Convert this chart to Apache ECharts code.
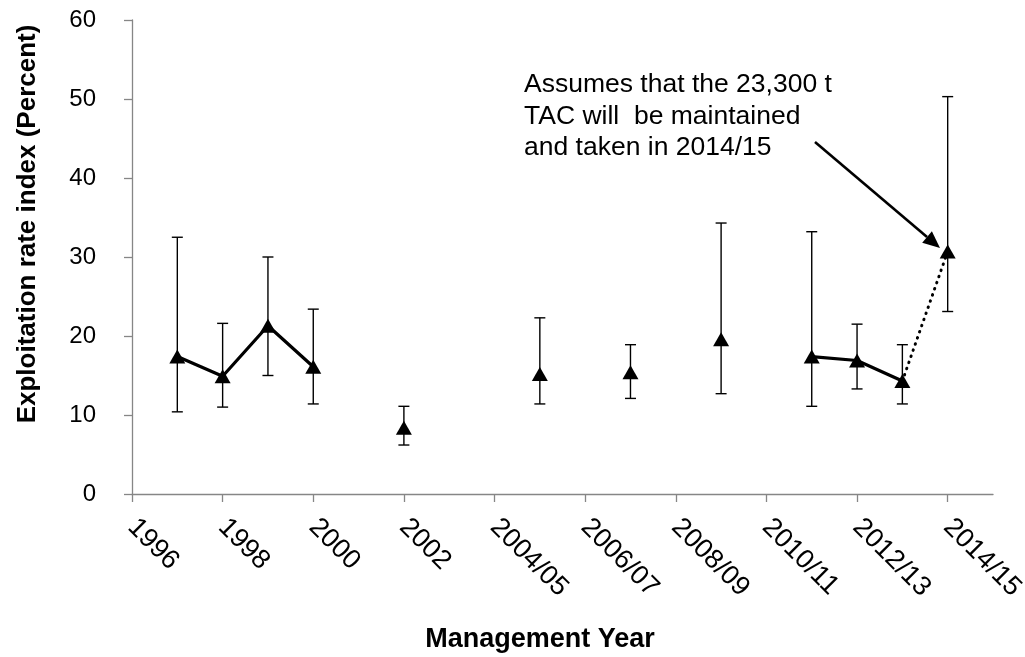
<!DOCTYPE html>
<html>
<head>
<meta charset="utf-8">
<script src="https://cdn.jsdelivr.net/npm/echarts@6/dist/echarts.min.js"></script>
<style>
html,body{margin:0;padding:0;background:#fff;}
#chart{width:1025px;height:657px;}
</style>
</head>
<body>
<div id="chart"></div>
<script>
// Category axis (one slot per management year; labels every second slot)
const categories = ['1996','1997','1998','1999','2000','2001','2002','2003',
  '2004/05','2005/06','2006/07','2007/08','2008/09','2009/10','2010/11',
  '2011/12','2012/13','2013/14','2014/15',''];

// Observed exploitation rate index points
const pointYears = ['1997','1998','1999','2000','2002','2005/06','2007/08','2009/10','2011/12','2012/13','2013/14','2014/15'];
const pointValues = [17.4, 14.9, 21.3, 16.1, 8.4, 15.2, 15.4, 19.6, 17.4, 16.9, 14.3, 30.7];
const lowerBounds = [10.4, 11.0, 15.0, 11.4, 6.2, 11.4, 12.1, 12.7, 11.1, 13.3, 11.4, 23.1];
const upperBounds = [32.5, 21.6, 30.0, 23.4, 11.1, 22.3, 18.9, 34.3, 33.2, 21.5, 18.9, 50.3];

// Connected runs
const solidRunA = ['1997','1998','1999','2000'];
const solidRunB = ['2011/12','2012/13','2013/14'];
const dottedRun = ['2013/14','2014/15'];

const yTicks = {min: 0, max: 60, interval: 10};

const annotationText = 'Assumes that the 23,300 t\nTAC will  be maintained\nand taken in 2014/15';
const xTitle = 'Management Year';
const yTitle = 'Exploitation rate index (Percent)';

const FONT = "'Liberation Sans', Arial, Helvetica, sans-serif";
const AXIS_COLOR = '#868686';

function valueOf(year){ return pointValues[pointYears.indexOf(year)]; }
function runData(runs){
  const out = categories.map(() => null);
  runs.forEach(run => run.forEach(y => { out[categories.indexOf(y)] = valueOf(y); }));
  return out;
}
const solidData = runData([solidRunA, solidRunB]);
const dottedData = runData([dottedRun]);
const scatterData = pointYears.map((y, i) => [categories.indexOf(y), pointValues[i]]);
const errorData = pointYears.map((y, i) => [categories.indexOf(y), lowerBounds[i], upperBounds[i]]);

const chart = echarts.init(document.getElementById('chart'), null, {renderer: 'canvas'});

const option = {
  backgroundColor: '#ffffff',
  animation: false,
  grid: {left: 132, right: 32, top: 20, bottom: 163, containLabel: false, outerBoundsMode: 'none'},
  xAxis: {
    type: 'category',
    data: categories,
    boundaryGap: false,
    axisLine: {show: true, lineStyle: {color: AXIS_COLOR, width: 1.3}},
    axisTick: {show: true, interval: 1, length: 8, lineStyle: {color: AXIS_COLOR, width: 1.3}},
    axisLabel: {interval: 1, rotate: -45, margin: 29, fontSize: 27, color: '#000', fontFamily: FONT, hideOverlap: false},
    splitLine: {show: false}
  },
  yAxis: {
    type: 'value',
    min: yTicks.min, max: yTicks.max, interval: yTicks.interval,
    axisLine: {show: true, lineStyle: {color: AXIS_COLOR, width: 1.3}},
    axisTick: {show: true, length: 8, lineStyle: {color: AXIS_COLOR, width: 1.3}},
    axisLabel: {margin: 36, fontSize: 24, color: '#000', fontFamily: FONT},
    splitLine: {show: false}
  },
  series: [
    {
      name: 'error',
      type: 'custom',
      data: errorData,
      z: 2,
      renderItem: function(params, api){
        const x = api.value(0);
        const lo = api.coord([x, api.value(1)]);
        const hi = api.coord([x, api.value(2)]);
        const cap = 5.5;
        const st = {stroke: '#000', lineWidth: 1.4};
        return {type: 'group', children: [
          {type: 'line', shape: {x1: hi[0], y1: hi[1], x2: lo[0], y2: lo[1]}, style: st},
          {type: 'line', shape: {x1: hi[0]-cap, y1: hi[1], x2: hi[0]+cap, y2: hi[1]}, style: st},
          {type: 'line', shape: {x1: lo[0]-cap, y1: lo[1], x2: lo[0]+cap, y2: lo[1]}, style: st}
        ]};
      }
    },
    {
      name: 'solid',
      type: 'line',
      data: solidData,
      connectNulls: false,
      showSymbol: false,
      symbol: 'none',
      z: 3,
      lineStyle: {color: '#000', width: 3.2}
    },
    {
      name: 'dotted',
      type: 'line',
      data: dottedData,
      connectNulls: false,
      symbol: 'none',
      z: 3,
      lineStyle: {color: '#000', width: 3, type: [0.5, 6], cap: 'round'}
    },
    {
      name: 'points',
      type: 'scatter',
      data: scatterData,
      symbol: 'triangle',
      symbolSize: [16, 14],
      z: 4,
      itemStyle: {color: '#000', opacity: 1}
    }
  ],
  graphic: []
};

chart.setOption(option);

// Annotation arrow (start near text, tip just left of the 2014/15 marker)
const start = [815, 142];
const tip = [940, 248];
const dx = tip[0]-start[0], dy = tip[1]-start[1];
const len = Math.sqrt(dx*dx+dy*dy);
const ux = dx/len, uy = dy/len;
const headL = 17, headW = 7.5;
const base = [tip[0]-ux*headL, tip[1]-uy*headL];
const px = -uy*headW, py = ux*headW;

chart.setOption({
  graphic: [
    {type: 'text', x: 28, y: 224, rotation: Math.PI/2,
      style: {text: yTitle, font: 'bold 26px ' + FONT, fill: '#000', textAlign: 'center', textVerticalAlign: 'middle'}},
    {type: 'text', x: 540, y: 640,
      style: {text: xTitle, font: 'bold 27px ' + FONT, fill: '#000', textAlign: 'center', textVerticalAlign: 'middle'}},
    {type: 'text', x: 524, y: 69,
      style: {text: annotationText, font: '26.5px ' + FONT, fill: '#000', textAlign: 'left', textVerticalAlign: 'top', lineHeight: 31.5}},
    {type: 'line', shape: {x1: start[0], y1: start[1], x2: base[0], y2: base[1]}, style: {stroke: '#000', lineWidth: 2.6}},
    {type: 'polygon', shape: {points: [tip, [base[0]+px, base[1]+py], [base[0]-px, base[1]-py]]}, style: {fill: '#000'}}
  ]
});
</script>
</body>
</html>
